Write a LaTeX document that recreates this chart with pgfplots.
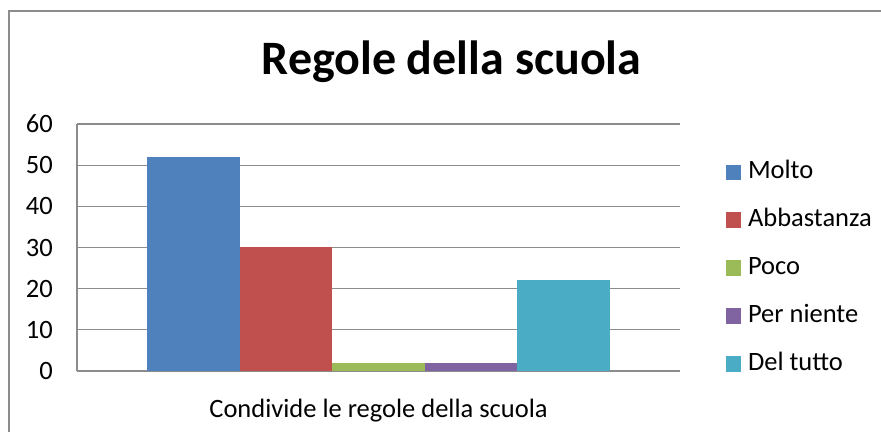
\documentclass[border=0pt]{standalone}
\usepackage{pgfplots}
\pgfplotsset{compat=1.18}
\usepackage{fontspec}
\setmainfont{Carlito}
\definecolor{c1}{HTML}{4F81BD}
\definecolor{c2}{HTML}{C0504D}
\definecolor{c3}{HTML}{9BBB59}
\definecolor{c4}{HTML}{8064A2}
\definecolor{c5}{HTML}{4BACC6}
\definecolor{gridc}{HTML}{8C8C8C}
\begin{document}
\begin{tikzpicture}
\useasboundingbox (0,0) rectangle (881bp,432bp);
\draw[gridc, line width=2bp] (8.5bp,0) -- (8.5bp,420.5bp) -- (881bp,420.5bp);
\node[anchor=base, font=\fontsize{48bp}{56bp}\selectfont\bfseries] at (451.5bp,357.5bp) {Regole della scuola};
\begin{axis}[
  at={(77bp,61bp)}, anchor=south west,
  scale only axis, width=603bp, height=247bp,
  ybar=0pt, bar width=92.6bp,
  xmin=-1, xmax=1, ymin=0, ymax=60,
  ytick={0,10,...,60},
  xtick={0}, xticklabels={Condivide le regole della scuola},
  axis x line=bottom, axis y line=left,
  axis line style={-, gridc, line width=1.5bp},
  ymajorgrids, major grid style={gridc, line width=1.3bp},
  major tick length=0pt,
  /pgf/number format/assume math mode=true,
  tick label style={font=\fontsize{26.5bp}{30bp}\selectfont},
  yticklabel style={anchor=east, inner sep=0pt, xshift=-24bp},
  xticklabel style={anchor=base, inner sep=0pt, yshift=-46bp},
  legend style={at={(1.071,0.417)}, anchor=west, draw=none, fill=none,
    font=\fontsize{26.5bp}{30bp}\selectfont,
    nodes={inner sep=0pt, text height=17bp, text depth=5bp},
    row sep=26bp, column sep=7bp},
  legend image code/.code={\fill[#1] (0bp,-7.5bp) rectangle (15bp,7.5bp);},
  legend cell align=left,
]
\addplot[fill=c1, draw=none] coordinates {(0,52)};
\addplot[fill=c2, draw=none] coordinates {(0,30)};
\addplot[fill=c3, draw=none] coordinates {(0,2)};
\addplot[fill=c4, draw=none] coordinates {(0,2)};
\addplot[fill=c5, draw=none] coordinates {(0,22)};
\legend{Molto,Abbastanza,Poco,Per niente,Del tutto}
\end{axis}
\end{tikzpicture}
\end{document}
